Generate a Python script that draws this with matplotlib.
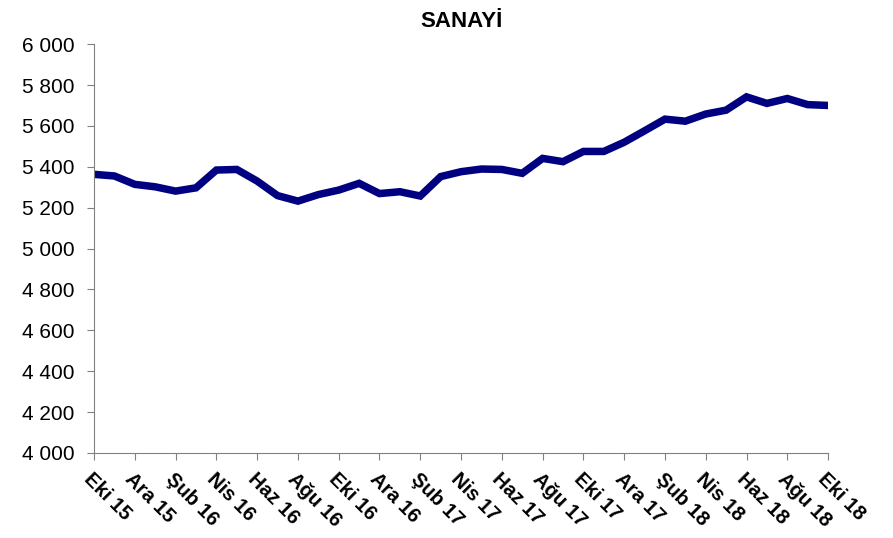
import matplotlib
matplotlib.use("Agg")
import matplotlib.pyplot as plt
from matplotlib.ticker import FuncFormatter

plt.rcParams['font.family'] = ['Liberation Sans', 'DejaVu Sans']

# monthly values, Eki 15 .. Eki 18
months = ["Eki 15", "Kas 15", "Ara 15", "Oca 16", "Şub 16", "Mar 16", "Nis 16", "May 16",
          "Haz 16", "Tem 16", "Ağu 16", "Eyl 16", "Eki 16", "Kas 16", "Ara 16", "Oca 17",
          "Şub 17", "Mar 17", "Nis 17", "May 17", "Haz 17", "Tem 17", "Ağu 17", "Eyl 17",
          "Eki 17", "Kas 17", "Ara 17", "Oca 18", "Şub 18", "Mar 18", "Nis 18", "May 18",
          "Haz 18", "Tem 18", "Ağu 18", "Eyl 18", "Eki 18"]
sanayi = [5363, 5355, 5314, 5302, 5281, 5297, 5384, 5387, 5330, 5259, 5232, 5264,
          5286, 5319, 5269, 5278, 5257, 5352, 5376, 5389, 5387, 5368, 5441, 5425,
          5475, 5475, 5520, 5576, 5633, 5623, 5658, 5677, 5742, 5710, 5734, 5704, 5700]

x = list(range(len(months)))

fig = plt.figure(figsize=(8.93, 5.38), dpi=100)
ax = fig.add_axes([0.1053, 0.158, 0.822, 0.760])

ax.plot(x, sanayi, color="#000080", linewidth=5.4, solid_joinstyle="miter")

ax.set_xlim(0, len(months) - 1)
ax.set_ylim(4000, 6000)
ax.set_yticks(range(4000, 6001, 200))
ax.yaxis.set_major_formatter(FuncFormatter(lambda v, p: f"{int(v):,}".replace(",", " ")))
ax.set_xticks(x[::2])
ax.set_xticklabels(months[::2], rotation=-45, ha="left", va="top",
                   rotation_mode="anchor", fontweight="bold", fontsize=14.5)

for s in ["top", "right"]:
    ax.spines[s].set_visible(False)
for s in ["left", "bottom"]:
    ax.spines[s].set_color("#808080")
ax.tick_params(axis="both", color="#808080", length=5, direction="out")
ax.tick_params(axis="y", labelsize=15, pad=9)
ax.tick_params(axis="x", pad=7)

ax.set_title("SANAYİ", fontweight="bold", fontsize=16, pad=12)

fig.savefig("out.png", dpi=100)
